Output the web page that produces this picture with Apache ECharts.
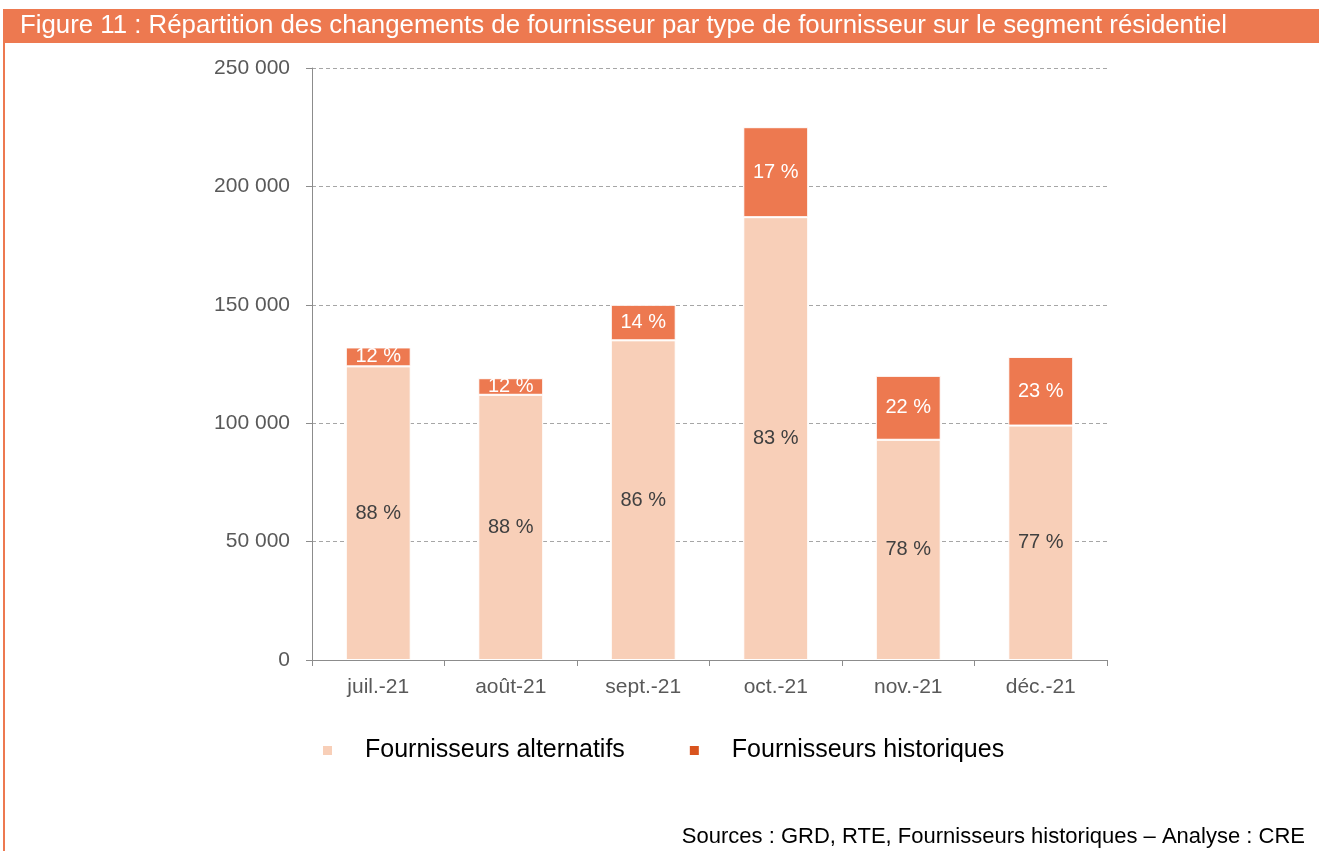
<!DOCTYPE html>
<html>
<head>
<meta charset="utf-8">
<script src="https://cdn.jsdelivr.net/npm/echarts@6/dist/echarts.min.js"></script>
<style>
  html, body { margin: 0; padding: 0; background: #fff; }
  #chart { width: 1319px; height: 851px; }
</style>
</head>
<body>
<div id="chart"></div>
<script>
// catégories (mois)
var months = ['juil.-21', 'août-21', 'sept.-21', 'oct.-21', 'nov.-21', 'déc.-21'];
// changements vers fournisseurs alternatifs
var alternatifs = [124000, 112000, 135000, 187000, 93000, 99000];
// changements vers fournisseurs historiques
var historiques = [8000, 7000, 15000, 38000, 27000, 29000];
// étiquettes de part (%)
var partAlt = ['88 %', '88 %', '86 %', '83 %', '78 %', '77 %'];
var partHist = ['12 %', '12 %', '14 %', '17 %', '22 %', '23 %'];

var orange = '#ED7950';
var peche = '#F8CFB8';
var axisFont = 'Liberation Sans, Arial, sans-serif';

var chart = echarts.init(document.getElementById('chart'));
chart.setOption({
    animation: false,
    graphic: [
        // bandeau du titre
        { type: 'rect', left: 3, top: 9, shape: { width: 1316, height: 34 }, style: { fill: orange } },
        { type: 'rect', left: 3, top: 43, shape: { width: 2, height: 808 }, style: { fill: orange } },
        {
            type: 'text', left: 20, top: 13,
            style: {
                text: 'Figure 11 : Répartition des changements de fournisseur par type de fournisseur sur le segment résidentiel',
                fill: '#fff', font: '25.8px "Liberation Sans", sans-serif'
            }
        },
        {
            type: 'text', right: 14, top: 826,
            style: {
                text: 'Sources : GRD, RTE, Fournisseurs historiques – Analyse : CRE',
                fill: '#000', font: '22px "Liberation Sans", sans-serif'
            }
        }
    ],
    legend: {
        top: 733,
        left: 316,
        itemWidth: 11,
        itemHeight: 11,
        itemGap: 63,
        icon: 'rect',
        textStyle: { fontSize: 25, color: '#000', fontFamily: axisFont, padding: [0, 0, 0, 27] },
        data: [
            { name: 'Fournisseurs alternatifs', itemStyle: { color: peche } },
            { name: 'Fournisseurs historiques', itemStyle: { color: '#D9541E' } }
        ]
    },
    grid: { left: 312, right: 212, top: 68, bottom: 191 },
    xAxis: {
        type: 'category',
        data: months,
        axisLine: { lineStyle: { color: '#8c8c8c' } },
        axisTick: { show: true, length: 6, lineStyle: { color: '#8c8c8c' } },
        axisLabel: { color: '#595959', fontSize: 21, fontFamily: axisFont, margin: 17 }
    },
    yAxis: {
        type: 'value',
        min: 0,
        max: 250000,
        interval: 50000,
        axisLine: { show: true, lineStyle: { color: '#8c8c8c' } },
        axisTick: { show: true, length: 6, lineStyle: { color: '#8c8c8c' } },
        splitLine: { lineStyle: { color: '#a6a6a6', type: [4, 3] } },
        axisLabel: {
            color: '#595959', fontSize: 21, fontFamily: axisFont, margin: 22,
            formatter: function (v) { return String(v).replace(/\B(?=(\d{3})+(?!\d))/g, ' '); }
        }
    },
    series: [
        {
            name: 'Fournisseurs alternatifs',
            type: 'bar',
            stack: 'total',
            barWidth: '49%',
            data: alternatifs,
            itemStyle: { color: peche, borderColor: '#fff', borderWidth: 1 },
            label: {
                show: true, position: 'inside', color: '#404040', fontSize: 20, fontFamily: axisFont,
                formatter: function (p) { return partAlt[p.dataIndex]; }
            }
        },
        {
            name: 'Fournisseurs historiques',
            type: 'bar',
            stack: 'total',
            data: historiques,
            itemStyle: { color: orange, borderColor: '#fff', borderWidth: 1 },
            label: {
                show: true, position: 'inside', color: '#fff', fontSize: 20, fontFamily: axisFont,
                formatter: function (p) { return partHist[p.dataIndex]; }
            }
        }
    ]
});
</script>
</body>
</html>
